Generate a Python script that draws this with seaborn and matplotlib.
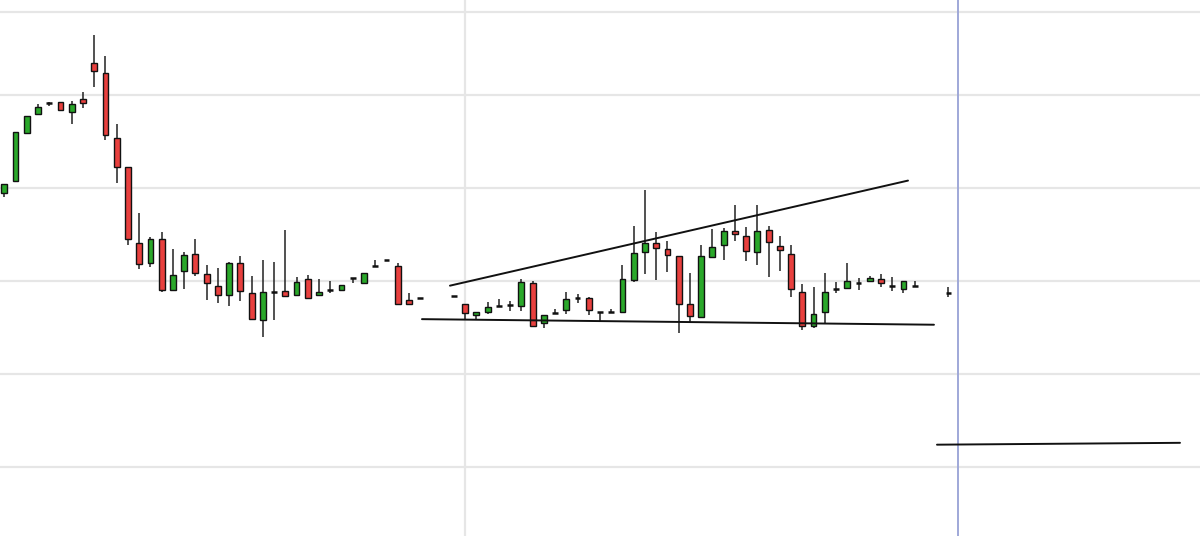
import numpy as np
import pandas as pd
import matplotlib
matplotlib.use("Agg")
import matplotlib.pyplot as plt
import seaborn as sns

nan = np.nan
# OHLC prices per bar slot (NaN = no trading)
opens = [12.95, 13.08, 13.59, 13.80, 13.91, 13.92, 13.82, 13.96, 14.34, 14.24,
         13.54, 13.23, 12.41, 12.19, 12.45, 11.90, 12.11, 12.29, 12.08, 11.95,
         11.85, 12.19, 11.87, 11.58, 11.88, 11.89, 11.85, 12.02, 11.85, 11.90,
         11.90, 12.03, 11.98, 12.16, 12.23, 12.16, 11.80, 11.82, nan, nan,
         11.84, 11.75, 11.63, 11.67, 11.73, 11.74, 11.73, 11.98, 11.55, 11.66,
         11.69, 11.82, 11.82, 11.67, 11.67, 11.67, 12.01, 12.31, 12.41, 12.34,
         12.27, 11.75, 11.61, 12.26, 12.39, 12.54, 12.48, 12.31, 12.55, 12.38,
         12.29, 11.88, 11.52, 11.67, 11.91, 11.92, 11.98, 12.00, 12.02, 11.95,
         11.91, 11.95, nan, nan, 11.87]
highs = [13.04, 13.60, 13.77, 13.90, 13.92, 13.92, 13.94, 14.03, 14.65, 14.42,
         13.69, 13.23, 12.73, 12.47, 12.53, 12.34, 12.31, 12.45, 12.17, 12.14,
         12.20, 12.27, 12.05, 12.23, 12.20, 12.55, 12.04, 12.06, 12.02, 12.00,
         11.96, 12.03, 12.09, 12.23, 12.23, 12.19, 11.87, 11.82, nan, nan,
         11.84, 11.75, 11.67, 11.77, 11.81, 11.78, 12.02, 12.00, 11.63, 11.70,
         11.88, 11.86, 11.83, 11.67, 11.70, 12.17, 12.59, 12.98, 12.53, 12.43,
         12.27, 12.09, 12.39, 12.56, 12.57, 12.82, 12.58, 12.82, 12.59, 12.48,
         12.39, 11.97, 11.94, 12.09, 11.99, 12.19, 12.03, 12.05, 12.08, 12.04,
         12.00, 12.00, nan, nan, 11.94]
lows = [12.90, 13.06, 13.58, 13.80, 13.88, 13.84, 13.69, 13.86, 14.09, 13.52,
        13.05, 12.39, 12.13, 12.15, 11.88, 11.90, 11.91, 12.05, 11.80, 11.76,
        11.73, 11.78, 11.59, 11.40, 11.58, 11.84, 11.85, 11.82, 11.84, 11.87,
        11.90, 11.98, 11.98, 12.16, 12.23, 11.75, 11.75, 11.82, nan, nan,
        11.84, 11.59, 11.59, 11.65, 11.73, 11.68, 11.68, 11.51, 11.49, 11.66,
        11.65, 11.76, 11.63, 11.56, 11.67, 11.67, 11.99, 12.08, 12.01, 12.10,
        11.44, 11.56, 11.61, 12.26, 12.23, 12.43, 12.22, 12.17, 12.04, 12.11,
        11.83, 11.47, 11.49, 11.55, 11.87, 11.92, 11.90, 11.99, 11.94, 11.89,
        11.87, 11.95, nan, nan, 11.83]
closes = [13.04, 13.60, 13.77, 13.87, 13.91, 13.84, 13.90, 13.91, 14.26, 13.57,
          13.23, 12.45, 12.18, 12.45, 11.90, 12.06, 12.28, 12.09, 11.98, 11.85,
          12.19, 11.89, 11.59, 11.88, 11.88, 11.84, 11.99, 11.82, 11.88, 11.90,
          11.96, 12.03, 12.09, 12.16, 12.23, 11.75, 11.75, 11.82, nan, nan,
          11.84, 11.66, 11.67, 11.72, 11.73, 11.74, 11.99, 11.52, 11.63, 11.66,
          11.81, 11.82, 11.69, 11.67, 11.67, 12.02, 12.30, 12.41, 12.35, 12.28,
          11.75, 11.62, 12.27, 12.37, 12.54, 12.51, 12.32, 12.54, 12.42, 12.33,
          11.91, 11.52, 11.65, 11.88, 11.91, 12.00, 11.98, 12.03, 11.98, 11.95,
          12.00, 11.95, nan, nan, 11.87]

# drawn trend lines (bar-slot, price)
upper_x = [39.65, 80.40]
upper_y = [11.95, 13.08]
lower_x = [37.16, 82.71]
lower_y = [11.59, 11.53]
base_x = [82.98, 104.6]
base_y = [10.24, 10.26]
grid_prices = [10, 11, 12, 13, 14, 14.89]
session_x = 41
cursor_x = 84.85

df = pd.DataFrame({"slot": np.arange(len(opens)), "open": opens, "high": highs,
                   "low": lows, "close": closes}).dropna()

sns.set_theme(style="white")
fig = plt.figure(figsize=(12, 5.36), dpi=100)
ax = fig.add_axes([0, 0, 1, 1])
ax.set_xlim(-0.383, 106.38)
ax.set_ylim(9.258, 15.022)
for s in ax.spines.values():
    s.set_visible(False)
ax.set_xticks([])
ax.set_yticks([])

for g in grid_prices:
    ax.axhline(g, color="#e6e6e6", lw=1.6, zorder=0)
ax.axvline(session_x, color="#e6e6e6", lw=1.6, zorder=0)
ax.axvline(cursor_x, color="#9fa8d8", lw=1.4, zorder=1)

# wicks
ax.vlines(df["slot"], df["low"], df["high"], color="#222222", lw=1.1, zorder=2)

up_c, dn_c = "#2aa82a", "#e8403e"
w = 0.52
body_lo = np.minimum(df["open"], df["close"])
body_h = np.abs(df["close"] - df["open"])
colors = np.where(df["close"] > df["open"], up_c, dn_c)
mask = body_h > 0.001
ax.bar(df["slot"][mask], body_h[mask], bottom=body_lo[mask], width=w,
       color=colors[mask], edgecolor="#111111", linewidth=1.0, zorder=3)
# doji
dj = df[~mask]
ax.hlines(dj["close"], dj["slot"] - w / 2, dj["slot"] + w / 2,
          color="#111111", lw=1.8, zorder=3)

for xs, ys in [(upper_x, upper_y), (lower_x, lower_y), (base_x, base_y)]:
    sns.lineplot(x=xs, y=ys, ax=ax, color="#111111", lw=1.4, zorder=4,
                 legend=False)

ax.set_xlabel("")
ax.set_ylabel("")
fig.savefig("out.png", dpi=100, facecolor="white")
